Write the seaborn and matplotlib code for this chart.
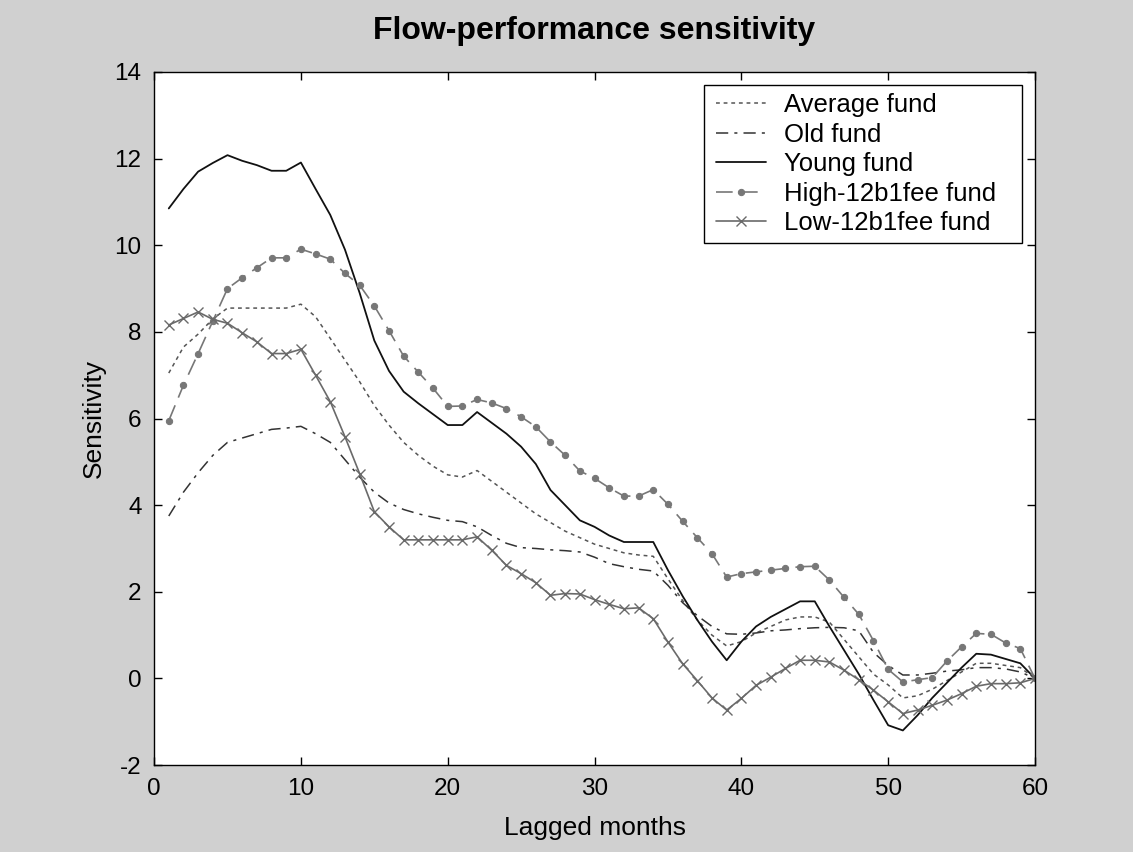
import numpy as np
import pandas as pd
import matplotlib
matplotlib.use("Agg")
import matplotlib.pyplot as plt
from matplotlib.patches import Rectangle
import seaborn as sns

# lag in months
months = list(range(1, 61))

average_fund = [7.05, 7.65, 7.95, 8.3, 8.55, 8.55, 8.55, 8.55, 8.55, 8.64,
                8.35, 7.85, 7.35, 6.85, 6.3, 5.85, 5.45, 5.15, 4.9, 4.7,
                4.65, 4.8, 4.55, 4.3, 4.05, 3.8, 3.6, 3.4, 3.25, 3.1,
                3.0, 2.9, 2.85, 2.82, 2.3, 1.8, 1.35, 1.0, 0.75, 0.85,
                1.05, 1.2, 1.35, 1.42, 1.42, 1.3, 0.9, 0.5, 0.1, -0.15,
                -0.45, -0.4, -0.25, -0.05, 0.15, 0.35, 0.35, 0.3, 0.25, 0.0]

old_fund = [3.75, 4.3, 4.75, 5.15, 5.45, 5.55, 5.65, 5.75, 5.78, 5.82,
            5.65, 5.45, 5.05, 4.65, 4.3, 4.05, 3.9, 3.8, 3.72, 3.65,
            3.62, 3.5, 3.3, 3.12, 3.02, 3.0, 2.97, 2.95, 2.92, 2.8,
            2.65, 2.58, 2.52, 2.48, 2.15, 1.75, 1.45, 1.2, 1.03, 1.02,
            1.05, 1.1, 1.12, 1.15, 1.17, 1.18, 1.17, 1.1, 0.6, 0.3,
            0.08, 0.08, 0.12, 0.17, 0.2, 0.25, 0.25, 0.22, 0.15, 0.0]

young_fund = [10.85, 11.3, 11.7, 11.9, 12.08, 11.95, 11.85, 11.72, 11.72, 11.91,
              11.3, 10.7, 9.9, 8.9, 7.8, 7.1, 6.62, 6.35, 6.1, 5.85,
              5.85, 6.15, 5.9, 5.65, 5.35, 4.95, 4.35, 4.0, 3.65, 3.5,
              3.3, 3.15, 3.15, 3.15, 2.5, 1.9, 1.35, 0.85, 0.42, 0.85,
              1.2, 1.42, 1.6, 1.78, 1.78, 1.2, 0.65, 0.1, -0.5, -1.08,
              -1.2, -0.85, -0.45, -0.1, 0.25, 0.57, 0.55, 0.45, 0.35, 0.0]

high_fee_fund = [5.95, 6.77, 7.5, 8.25, 9.0, 9.25, 9.48, 9.71, 9.71, 9.91,
                 9.8, 9.68, 9.35, 9.08, 8.6, 8.03, 7.44, 7.07, 6.7, 6.28,
                 6.29, 6.44, 6.36, 6.23, 6.04, 5.81, 5.46, 5.15, 4.79, 4.62,
                 4.4, 4.21, 4.21, 4.36, 4.02, 3.63, 3.25, 2.88, 2.34, 2.42,
                 2.46, 2.5, 2.54, 2.58, 2.59, 2.27, 1.87, 1.48, 0.87, 0.21,
                 -0.08, -0.03, 0.02, 0.4, 0.73, 1.04, 1.02, 0.82, 0.69, 0.0]

low_fee_fund = [8.16, 8.31, 8.46, 8.29, 8.2, 7.98, 7.77, 7.5, 7.5, 7.6,
                7.0, 6.39, 5.58, 4.73, 3.85, 3.5, 3.2, 3.2, 3.2, 3.2,
                3.2, 3.27, 2.96, 2.61, 2.42, 2.21, 1.92, 1.96, 1.95, 1.82,
                1.71, 1.61, 1.63, 1.38, 0.84, 0.34, -0.05, -0.45, -0.73, -0.46,
                -0.16, 0.03, 0.23, 0.42, 0.42, 0.38, 0.19, -0.03, -0.27, -0.54,
                -0.81, -0.73, -0.62, -0.5, -0.35, -0.18, -0.12, -0.12, -0.1, 0.0]

series_names = ["Average fund", "Old fund", "Young fund",
                "High-12b1fee fund", "Low-12b1fee fund"]

df = pd.DataFrame({
    "month": months * 5,
    "value": average_fund + old_fund + young_fund + high_fee_fund + low_fee_fund,
    "fund": sum([[n] * len(months) for n in series_names], []),
})

sns.set_style("ticks")
plt.rcParams["font.family"] = ["Liberation Sans", "DejaVu Sans"]
plt.rcParams["axes.unicode_minus"] = False
plt.rcParams["text.color"] = "black"
plt.rcParams["axes.labelcolor"] = "black"
plt.rcParams["xtick.color"] = "black"
plt.rcParams["ytick.color"] = "black"

fig = plt.figure(figsize=(11.33, 8.52), dpi=100, facecolor="#d0d0d0")
ax = fig.add_axes([0.136, 0.102, 0.7775, 0.8135])
ax.set_facecolor("white")

styles = {
    "Average fund": dict(color="#555555", linestyle=(0, (2.5, 2.5)), lw=1.1),
    "Old fund": dict(color="#333333", linestyle=(0, (8, 4, 2, 4)), lw=1.1),
    "Young fund": dict(color="#111111", linestyle="-", lw=1.3),
    "High-12b1fee fund": dict(color="#777777", linestyle=(0, (10, 5)), lw=1.2,
                              marker="o", markersize=4.5,
                              markeredgecolor="#777777", markerfacecolor="#777777"),
    "Low-12b1fee fund": dict(color="#6a6a6a", linestyle="-", lw=1.2,
                             marker="x", markersize=7.5, markeredgewidth=1.0,
                             markeredgecolor="#6a6a6a"),
}

for name in series_names:
    sub = df[df["fund"] == name]
    sns.lineplot(data=sub, x="month", y="value", ax=ax, label=name, **styles[name])

ax.set_xlim(0, 60)
ax.set_ylim(-2, 14)
ax.set_xticks(range(0, 61, 10))
ax.set_yticks(range(-2, 15, 2))
ax.tick_params(direction="in", top=True, right=True, labelsize=17.5,
               length=6, width=1, pad=9)
for sp in ax.spines.values():
    sp.set_visible(True)
    sp.set_linewidth(1.0)
    sp.set_color("black")

ax.set_xlabel("Lagged months", fontsize=19, labelpad=12)
ax.set_ylabel("Sensitivity", fontsize=19, labelpad=6)
ax.set_title("Flow-performance sensitivity", fontsize=23, fontweight="bold", pad=24)

leg = ax.legend(loc="upper right", fontsize=18.5, frameon=False,
                bbox_to_anchor=(0.965, 0.981), borderaxespad=0,
                handlelength=1.95, handletextpad=0.7, labelspacing=0.22,
                borderpad=0.3)
leg.set_zorder(6)

# MATLAB-style legend box: wider on the right than matplotlib pads it
fig.canvas.draw()
bb = leg.get_window_extent().transformed(fig.transFigure.inverted())
box = Rectangle((bb.x0 - 0.004, bb.y0), bb.width + 0.004 + 0.016, bb.height,
                transform=fig.transFigure, facecolor="white", edgecolor="black",
                lw=1.0, zorder=5, clip_on=False)
ax.add_patch(box)

fig.savefig("out.png", dpi=100, facecolor=fig.get_facecolor())
